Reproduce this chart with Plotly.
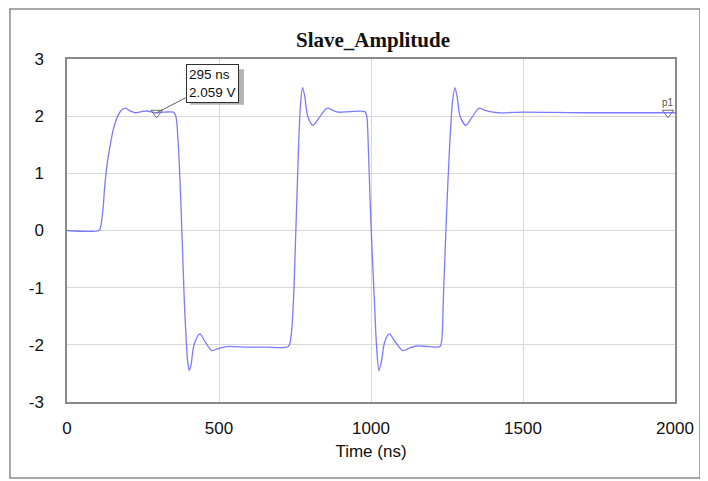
import plotly.graph_objects as go

time_ns = [0, 105, 110, 118, 125, 133, 141, 152, 165, 178, 191, 205, 224, 245, 262, 280, 295, 320, 350,
           358, 365, 372, 380, 386, 392, 397, 402, 408, 418, 437, 455, 476, 500, 525, 590, 650, 728,
           737, 745, 751, 756, 762, 768, 775, 782, 792, 810, 830, 856, 875, 893, 931, 980,
           986, 991, 997, 1004, 1011, 1018, 1026, 1034, 1045, 1060, 1080, 1104, 1125, 1150, 1190, 1227,
           1233, 1238, 1245, 1251, 1257, 1262, 1268, 1276, 1283, 1293, 1312, 1332, 1356, 1375, 1391,
           1420, 1500, 1600, 1700, 1800, 1900, 2000]
volts = [0, 0, 0.05, 0.35, 0.83, 1.2, 1.46, 1.76, 1.98, 2.1, 2.14, 2.1, 2.06, 2.08, 2.09, 2.07, 2.059, 2.07, 2.07,
         2.0, 1.6, 0.83, -0.34, -1.25, -1.9, -2.3, -2.45, -2.35, -2.0, -1.81, -1.95, -2.10, -2.06, -2.03, -2.04, -2.04, -2.03,
         -1.85, -1.21, -0.3, 0.53, 1.5, 2.2, 2.50, 2.35, 2.0, 1.84, 1.98, 2.14, 2.1, 2.07, 2.08, 2.08,
         2.0, 1.5, 0.53, -0.4, -1.2, -2.0, -2.45, -2.3, -1.95, -1.81, -1.95, -2.10, -2.06, -2.02, -2.03, -2.03,
         -1.9, -1.2, -0.2, 0.6, 1.3, 1.8, 2.25, 2.50, 2.35, 2.0, 1.84, 1.98, 2.14, 2.1, 2.08,
         2.06, 2.07, 2.065, 2.06, 2.06, 2.06, 2.06]

marker_t = [295, 1977]
marker_v = [2.059, 2.06]
marker_names = ["", "p1"]

x_ticks = [0, 500, 1000, 1500, 2000]
y_ticks = [-3, -2, -1, 0, 1, 2, 3]
y_tick_text = ["-3", "-2", "-1", "0", "1", "2", "3"]

FONT = "Liberation Sans, Arial, sans-serif"

fig = go.Figure()
fig.add_trace(go.Scatter(x=time_ns, y=volts, mode="lines",
                         line=dict(color="rgba(100,100,255,0.85)", width=1.3, shape="spline", smoothing=0.8),
                         showlegend=False, hoverinfo="skip"))
fig.add_trace(go.Scatter(x=marker_t, y=marker_v, mode="markers",
                         marker=dict(symbol="triangle-down-open", size=10, color="#707070", line=dict(width=1)),
                         showlegend=False))

label = f"{marker_t[0]} ns<br>{marker_v[0]:.3f} V"
# drop shadow of the readout box (drawn beneath the annotation)
fig.add_shape(type="rect", xref="x", yref="y", x0=405, x1=582, y0=2.20, y1=2.82,
              line=dict(width=0), fillcolor="#b4b4b4", layer="above")
fig.add_annotation(x=marker_t[0], y=marker_v[0], text=label,
                   showarrow=True, arrowhead=0, arrowwidth=1, arrowcolor="#606060",
                   ax=56, ay=-29, align="left",
                   bordercolor="#303030", borderwidth=1, borderpad=2, bgcolor="white",
                   font=dict(family=FONT, size=13.5, color="#111"))
fig.add_annotation(x=marker_t[1], y=marker_v[1], text=marker_names[1], showarrow=False, yshift=10,
                   font=dict(family=FONT, size=10, color="#555"))

# outer frame
fig.add_shape(type="rect", xref="paper", yref="paper", x0=-0.0938, x1=1.0411, y0=-0.2216, y1=1.1458,
              line=dict(color="#8c8c8c", width=1.5), layer="below")

fig.update_layout(
    width=700, height=473,
    margin=dict(l=59, r=33, t=51, b=79),
    paper_bgcolor="white", plot_bgcolor="white",
    title=dict(text="<b>Slave_Amplitude</b>", x=365/700, xanchor="center", y=(473-32)/473, yanchor="middle",
               xref="container", yref="container",
               font=dict(family="Liberation Serif, Times New Roman, serif", size=21, color="#111")),
    font=dict(family=FONT, size=17, color="#111"),
)
fig.update_xaxes(range=[0, 2000], tickvals=x_ticks, showgrid=True, gridcolor="#d8d8d8", gridwidth=1,
                 showline=True, linecolor="#8a8a8a", linewidth=1.5, mirror=True, zeroline=False,
                 ticks="", ticklabelstandoff=10,
                 title=dict(text="Time (ns)", standoff=8, font=dict(size=17)))
fig.update_yaxes(range=[-3, 3], tickvals=y_ticks, ticktext=y_tick_text, showgrid=True, gridcolor="#d8d8d8",
                 gridwidth=1, showline=True, linecolor="#8a8a8a", linewidth=1.5, mirror=True, zeroline=False,
                 ticks="", ticklabelstandoff=18)

fig.write_html("out.html")
